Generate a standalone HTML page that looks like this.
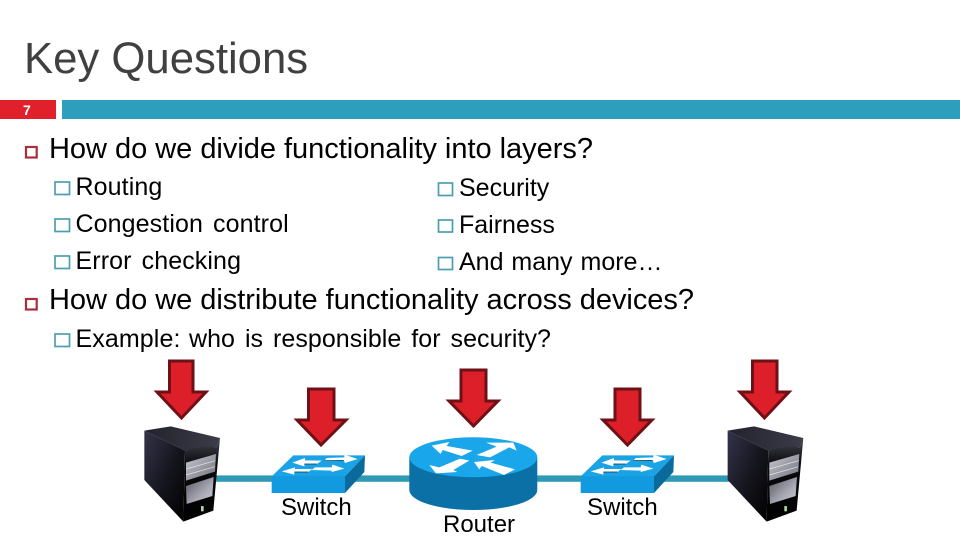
<!DOCTYPE html>
<html lang="en">
<head>
<meta charset="utf-8">
<title>Key Questions</title>
<style>
html,body{margin:0;padding:0;background:#fff;width:960px;height:540px;overflow:hidden}
svg{display:block}
text{font-family:"Liberation Sans",Arial,sans-serif;fill:#000}
.h{font-size:29px}
.s{font-size:25px;word-spacing:3px;letter-spacing:.1px}
.r{font-size:25px;word-spacing:1px}
.l{font-size:24px}
.b1{fill:none;stroke:#a8303c;stroke-width:2.2}
.b2{fill:none;stroke:#4d9db2;stroke-width:1.7}
.arrow{fill:#dc1f28;stroke:#6e1015;stroke-width:3;stroke-linejoin:miter}
</style>
</head>
<body>
<svg width="960" height="540" viewBox="0 0 960 540" xmlns="http://www.w3.org/2000/svg">
<defs>
<linearGradient id="sl" x1="0" y1="0" x2="1" y2="1"><stop offset="0" stop-color="#34344a"/><stop offset=".55" stop-color="#14141c"/><stop offset="1" stop-color="#000"/></linearGradient>
<linearGradient id="st" x1="0" y1="0" x2="1" y2="0"><stop offset="0" stop-color="#22222c"/><stop offset="1" stop-color="#3c3c4a"/></linearGradient>
<linearGradient id="sf" x1="0" y1="0" x2="0" y2="1"><stop offset="0" stop-color="#44444e"/><stop offset=".3" stop-color="#0c0c10"/><stop offset="1" stop-color="#000"/></linearGradient>
<linearGradient id="d1" x1="0" y1="0" x2="1" y2="1"><stop offset="0" stop-color="#c8c8d0"/><stop offset="1" stop-color="#70707c"/></linearGradient>
<linearGradient id="d2" x1="0" y1="0" x2="1" y2="1"><stop offset="0" stop-color="#55555f"/><stop offset=".6" stop-color="#a8a8b4"/><stop offset="1" stop-color="#d0d0d8"/></linearGradient>
<g id="server" transform="scale(.33333)">
<path d="M73 242 L152 229 L300 264 L290 292 Q240 288 195 302 Z" fill="url(#st)"/>
<path d="M73 242 L195 302 L190 515 L73 390 Z" fill="url(#sl)"/>
<path d="M195 302 Q245 285 290 292 L300 264 L280 482 L190 515 Z" fill="url(#sf)"/>
<path d="M198 338 L288 312 L285 365 L198 392 Z" fill="url(#d1)"/>
<path d="M198 357 L286 332 M198 375 L285 350" stroke="#e4e4ea" stroke-width="2" fill="none"/>
<path d="M198 408 L281 381 L277 438 L200 462 Z" fill="url(#d2)"/>
<rect x="243" y="468" width="8" height="16" rx="2" fill="#a8d8a0"/>
</g>
<g id="switch" transform="translate(265 448) scale(.33333)">
<path d="M20 85 L85 22 L300 22 L240 85 Z" fill="#1aa4e6"/>
<rect x="20" y="85" width="220" height="50" fill="#129ae0"/>
<path d="M240 85 L300 22 L298 72 L240 135 Z" fill="#0a6a9c"/>
<path d="M82 44 L120 30 L120 37 L170 38 L155 48 L118 48 L118 55 Z" fill="#fff"/>
<path d="M178 38 L185 30 L238 28 L238 20 L278 33 L240 45 L236 37 Z" fill="#fff"/>
<path d="M50 70 L90 58 L90 63 L142 63 L130 72 L88 72 L88 80 Z" fill="#fff"/>
<path d="M150 58 L200 58 L202 50 L238 62 L200 72 L200 68 L140 66 Z" fill="#fff"/>
<path d="M118 48 L155 48 M88 72 L130 72 M178 38 L236 37" stroke="#06344e" stroke-width="2" fill="none"/>
</g>
</defs>

<text x="24" y="73" font-size="43.700" style="fill:#404040">Key Questions</text>

<rect x="0" y="100" width="56" height="19" fill="#e0202a"/>
<rect x="62" y="100" width="898" height="19" fill="#2d9fbd"/>
<text x="23" y="115" font-size="14" font-weight="bold" style="fill:#fff">7</text>

<rect class="b1" x="26" y="147" width="10.700" height="10.500"/>
<text class="h" x="49" y="158" textLength="544" lengthAdjust="spacing">How do we divide functionality into layers?</text>

<rect class="b2" x="55" y="182" width="14.500" height="12.500"/>
<text class="s" x="75.500" y="195">Routing</text>
<rect class="b2" x="55" y="219" width="14.500" height="12.500"/>
<text class="s" x="75.500" y="232">Congestion control</text>
<rect class="b2" x="55" y="256" width="14.500" height="12.500"/>
<text class="s" x="75.500" y="269">Error checking</text>

<rect class="b2" x="438.500" y="183" width="14" height="12.500"/>
<text class="r" x="459" y="196">Security</text>
<rect class="b2" x="438.500" y="220" width="14" height="12"/>
<text class="r" x="459" y="233">Fairness</text>
<rect class="b2" x="438.500" y="257.500" width="14" height="12"/>
<text class="r" x="459" y="270">And many more…</text>

<rect class="b1" x="26" y="299" width="10.700" height="10.500"/>
<text class="h" x="49" y="309" textLength="645" lengthAdjust="spacing">How do we distribute functionality across devices?</text>

<rect class="b2" x="55" y="334" width="14.500" height="12.500"/>
<text class="s" x="75.500" y="347">Example:</text>
<text class="s" x="189" y="347" textLength="362" lengthAdjust="spacing">who is responsible for security?</text>

<rect x="210" y="475.400" width="525" height="6.400" fill="#2e9ab5"/>

<use href="#server" x="120" y="350"/>
<use href="#server" x="703.300" y="350"/>

<use href="#switch"/>
<use href="#switch" x="309"/>

<path d="M409.300 457 V490 A64 20 0 0 0 537.300 490 V457 Z" fill="#0a70a6"/>
<ellipse cx="473.300" cy="457.300" rx="64" ry="20" fill="#1aa6ea"/>
<g transform="translate(400 430) scale(.33333)" fill="#fff">
<path d="M95 47 L148 36 L140 48 L218 62 L185 78 L128 60 L122 72 Z"/>
<path d="M230 75 L290 50 L258 38 L340 38 L350 62 L328 52 L270 82 Z"/>
<path d="M88 105 L118 112 L180 86 L208 92 L160 120 L172 126 L108 130 Z"/>
<path d="M222 96 L285 90 L272 98 L345 118 L312 135 L245 108 L238 118 Z"/>
</g>

<polygon class="arrow" points="169.500,361 193,361 193,392 206,392 181.500,418 157,392 169.500,392"/>
<polygon class="arrow" points="308.500,389 334,389 334,420 346,420 321,445 297,420 308.500,420"/>
<polygon class="arrow" points="461,370 486,370 486,401 498,401 473.500,426 449,401 461,401"/>
<polygon class="arrow" points="615,389 640,389 640,420 652,420 627.500,445 603,420 615,420"/>
<polygon class="arrow" points="752.500,361 777,361 777,392 789,392 764.500,418 740,392 752.500,392"/>

<text class="l" x="281" y="515">Switch</text>
<text class="l" x="443" y="532">Router</text>
<text class="l" x="587" y="515">Switch</text>
</svg>
</body>
</html>
